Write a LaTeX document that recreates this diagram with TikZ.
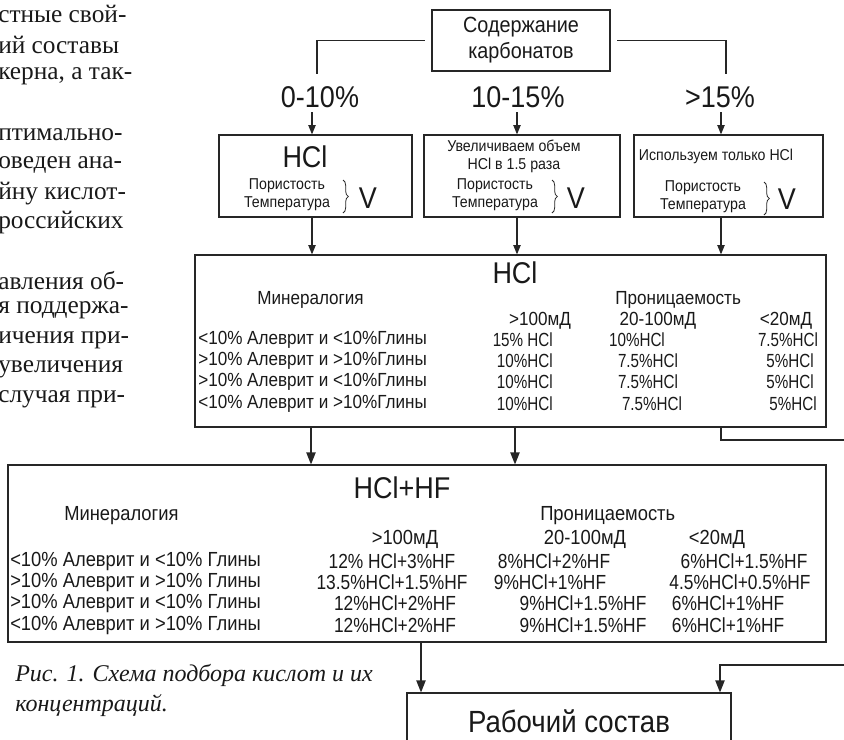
\documentclass[tikz,border=0pt]{standalone}
\usepackage{fontspec}
\setmainfont{Liberation Serif}
\newfontfamily\dsans[FakeStretch=0.9]{Liberation Sans}
\newfontfamily\dsansn[FakeStretch=0.8]{Liberation Sans}
\newfontfamily\dsansm[FakeStretch=0.85]{Liberation Sans}
\usetikzlibrary{arrows.meta,decorations.pathreplacing}
\newcommand\fsz[2]{\fontsize{#1}{#2}\selectfont}
\begin{document}
\begin{tikzpicture}[x=0.75pt,y=-0.75pt,
  every node/.style={text=black!90},
  box/.style={draw=black!85, line width=0.9pt, inner sep=0pt},
  conn/.style={draw=black!85, line width=0.9pt},
  arr/.style={conn, -{Triangle[length=7pt,width=5.5pt]}},
  arrb/.style={conn, -{Triangle[length=9pt,width=7pt]}},
  big/.style={font=\dsans\fsz{22.5pt}{26pt}, inner sep=0pt},
  mid/.style={font=\dsans\fsz{16.5pt}{19.5pt}, inner sep=0pt, align=center},
  small/.style={font=\dsans\fsz{11.8pt}{13.5pt}, inner sep=0pt, align=center},
  tab/.style={font=\dsans\fsz{14.25pt}{16pt}, inner sep=0pt},
  tabv/.style={font=\dsansn\fsz{14.25pt}{16pt}, inner sep=0pt},
  tabf/.style={font=\dsans\fsz{15.3pt}{17pt}, inner sep=0pt},
  tabfv/.style={font=\dsansm\fsz{15.3pt}{17pt}, inner sep=0pt},
  body/.style={font=\fsz{19pt}{22pt}, inner sep=0pt, anchor=west},
  capt/.style={font=\itshape\fsz{18pt}{22pt}, inner sep=0pt, anchor=west},
  brc/.style={draw=black!85, line width=0.6pt, decorate, decoration={brace, amplitude=4pt}},
]
\useasboundingbox (0,0) rectangle (844,740);
\clip (0,0) rectangle (844,740);

% left column text fragments
\node[body] (t1) at (-2,14) {стные свой-};
\node[body] (t2) at (-2,45) {ий составы};
\node[body] (t3) at (-2,76) {керна, а так-};
\node[body] (t4) at (-2,135) {птимально-};
\node[body] (t5) at (-2,164.5) {оведен ана-};
\node[body] (t6) at (-2,194) {йну кислот-};
\node[body] (t7) at (-2,223) {российских};
\node[body] (t8) at (-2,281) {авления об-};
\node[body] (t9) at (-2,310.5) {я поддержа-};
\node[body] (t10) at (-2,340) {ичения при-};
\node[body] (t11) at (-2,369.5) {увеличения};
\node[body] (t12) at (-2,399) {случая при-};

% top box and branches
\node[box, mid, minimum width=133.5pt, minimum height=45.75pt] (top) at (521,40.5) {Содержание\\карбонатов};
\coordinate (brl) at (317,74);
\coordinate (brr) at (726,74);
\draw[conn] ([xshift=-5pt]top.west) -| (brl);
\draw[conn] ([xshift=5pt]top.east) -| (brr);

\node[big] (l1) at (320,97) {0-10\%};
\node[big] (l2) at (518,97) {10-15\%};
\node[big] (l3) at (720,97) {>15\%};

\coordinate (c1) at (312,112);
\coordinate (c2) at (517,112);
\coordinate (c3) at (721,112);

% small boxes
\node[box, minimum width=144.75pt, minimum height=61.5pt] (s1) at (315.5,176) {};
\node[box, minimum width=147pt, minimum height=61.5pt] (s2) at (522,176) {};
\node[box, minimum width=141.75pt, minimum height=61.5pt] (s3) at (728.5,176) {};

\draw[arr] (c1) -- (c1 |- s1.north);
\draw[arr] (c2) -- (c2 |- s2.north);
\draw[arr] (c3) -- (c3 |- s3.north);

\node[big] (h1) at (305,157) {HCl};
\node[small] (p1) at (287,195) {Пористость\\Температура};
\draw[brc] (343,180) -- (343,213);
\node[big] (v1) at (368,198) {V};

\node[small] (u2) at (514,156) {Увеличиваем объем\\HCl в 1.5 раза};
\node[small] (p2) at (495,195) {Пористость\\Температура};
\draw[brc] (552,180) -- (552,213);
\node[big] (v2) at (576,198) {V};

\node[small] (u3) at (716,156) {Используем только HCl};
\node[small] (p3) at (703,197) {Пористость\\Температура};
\draw[brc] (764,182) -- (764,215);
\node[big] (v3) at (787,199) {V};

% HCl table box
\node[box, minimum width=473.25pt, minimum height=129pt] (hcl) at (510.5,341) {};
\draw[arr] (s1.south -| c1) -- (hcl.north -| c1);
\draw[arr] (s2.south -| c2) -- (hcl.north -| c2);
\draw[arr] (s3.south -| c3) -- (hcl.north -| c3);

\node[big] (ht) at (515,273) {HCl};
\node[tab, anchor=west] (hm) at (257,300) {Минералогия};
\node[tab, anchor=west] (hp) at (615,300) {Проницаемость};
\node[tab] (hh1) at (540,321) {>100мД};
\node[tab] (hh2) at (658,321) {20-100мД};
\node[tab] (hh3) at (786,321) {<20мД};

\node[tab, anchor=west] (hr1) at (198,340) {<10\% Алеврит и <10\%Глины};
\node[tab, anchor=west] (hr2) at (198,361) {>10\% Алеврит и >10\%Глины};
\node[tab, anchor=west] (hr3) at (198,382) {>10\% Алеврит и <10\%Глины};
\node[tab, anchor=west] (hr4) at (198,404) {<10\% Алеврит и >10\%Глины};

\node[tabv, anchor=east] (ha1) at (553,340) {15\% HCl};
\node[tabv, anchor=east] (ha2) at (553,361) {10\%HCl};
\node[tabv, anchor=east] (ha3) at (553,382) {10\%HCl};
\node[tabv, anchor=east] (ha4) at (553,404) {10\%HCl};
\node[tabv] (hb1) at (637,340) {10\%HCl};
\node[tabv] (hb2) at (648,361) {7.5\%HCl};
\node[tabv] (hb3) at (648,382) {7.5\%HCl};
\node[tabv] (hb4) at (652,404) {7.5\%HCl};
\node[tabv] (hc1) at (788,340) {7.5\%HCl};
\node[tabv] (hc2) at (790,361) {5\%HCl};
\node[tabv] (hc3) at (790,382) {5\%HCl};
\node[tabv] (hc4) at (793,404) {5\%HCl};

\coordinate (rr1) at (844,440);
\draw[conn] (hcl.south -| c3) |- (rr1);

% HCl+HF box
\node[box, minimum width=613.5pt, minimum height=132.75pt] (hf) at (417,553.5) {};
\coordinate (d1) at (311,0);
\coordinate (d2) at (515,0);
\draw[arrb] (hcl.south -| d1) -- (hf.north -| d1);
\draw[arrb] (hcl.south -| d2) -- (hf.north -| d2);

\node[big] (ft) at (402,488) {HCl+HF};
\node[tabf, anchor=west] (fm) at (64,516) {Минералогия};
\node[tabf, anchor=west] (fp) at (540,516) {Проницаемость};
\node[tabf] (fh1) at (405,539) {>100мД};
\node[tabf] (fh2) at (585,539) {20-100мД};
\node[tabf] (fh3) at (717,539) {<20мД};

\node[tabf, anchor=west] (fr1) at (10,561) {<10\% Алеврит и <10\% Глины};
\node[tabf, anchor=west] (fr2) at (10,582) {>10\% Алеврит и >10\% Глины};
\node[tabf, anchor=west] (fr3) at (10,603) {>10\% Алеврит и <10\% Глины};
\node[tabf, anchor=west] (fr4) at (10,625) {<10\% Алеврит и >10\% Глины};

\node[tabfv] (fa1) at (392,561) {12\% HCl+3\%HF};
\node[tabfv] (fa2) at (392,582) {13.5\%HCl+1.5\%HF};
\node[tabfv] (fa3) at (395,603) {12\%HCl+2\%HF};
\node[tabfv] (fa4) at (395,625) {12\%HCl+2\%HF};
\node[tabfv] (fb1) at (554,561) {8\%HCl+2\%HF};
\node[tabfv] (fb2) at (550,582) {9\%HCl+1\%HF};
\node[tabfv] (fb3) at (583,603) {9\%HCl+1.5\%HF};
\node[tabfv] (fb4) at (583,625) {9\%HCl+1.5\%HF};
\node[tabfv] (fc1) at (744,561) {6\%HCl+1.5\%HF};
\node[tabfv] (fc2) at (740,582) {4.5\%HCl+0.5\%HF};
\node[tabfv] (fc3) at (728,603) {6\%HCl+1\%HF};
\node[tabfv] (fc4) at (728,625) {6\%HCl+1\%HF};

% working composition
\node[box, minimum width=243pt, minimum height=60pt] (work) at (569,733) {};
\node[font=\dsans\fsz{23pt}{27pt}, inner sep=0pt, anchor=base] (wt) at (569,732) {Рабочий состав};
\coordinate (e1) at (421,0);
\coordinate (e2) at (720,0);
\coordinate (rr2) at (844,665);
\draw[arrb] (hf.south -| e1) -- (work.north -| e1);
\draw[arrb] (rr2) -| (work.north -| e2);

% caption
\node[capt] (cp1) at (15,675) {Рис. 1. Схема подбора кислот и их};
\node[capt] (cp2) at (15,706) {концентраций.};
\end{tikzpicture}
\end{document}
